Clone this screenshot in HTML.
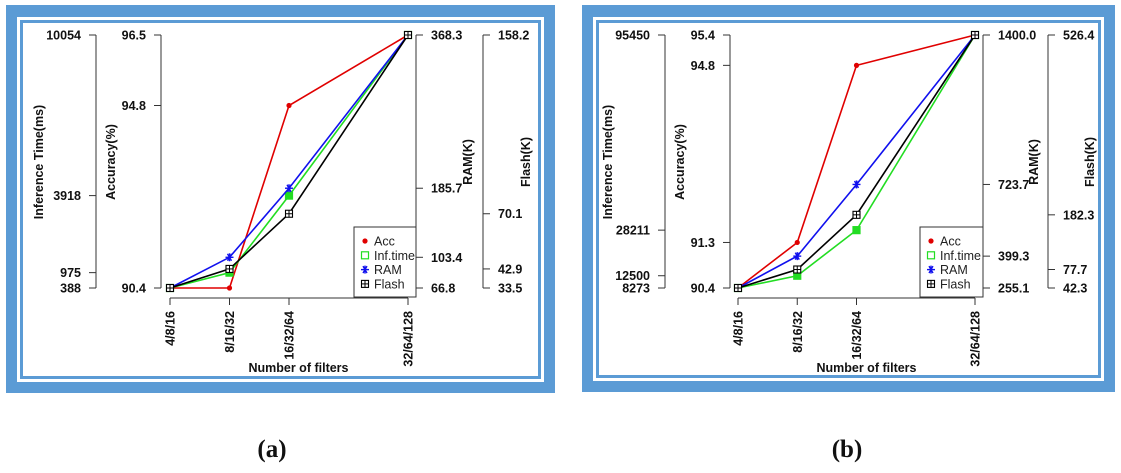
<!DOCTYPE html>
<html><head><meta charset="utf-8"><style>
body{margin:0;background:#fff;width:1121px;height:473px;overflow:hidden;position:relative;font-family:"Liberation Sans",sans-serif}
.cap{position:absolute;top:436px;font:bold 25px "Liberation Serif",serif;color:#111;width:80px;text-align:center}
</style></head><body>
<svg id="s" width="1121" height="473" style="position:absolute;left:0;top:0"></svg>
<div class="cap" style="left:232px">(a)</div>
<div class="cap" style="left:807px">(b)</div>
<script>
const categories=["4/8/16","8/16/32","16/32/64","32/64/128"];
const accA=[90.4,90.4,94.8,96.5];
const infA=[388,975,3918,10054];
const ramA=[66.8,103.4,185.7,368.3];
const flashA=[33.5,42.9,70.1,158.2];
const accTicksA=["90.4","94.8","96.5"];
const infTicksA=["388","975","3918","10054"];
const ramTicksA=["66.8","103.4","185.7","368.3"];
const flashTicksA=["33.5","42.9","70.1","158.2"];
const accB=[90.4,91.3,94.8,95.4];
const infB=[8273,12500,28211,95450];
const ramB=[255.1,399.3,723.7,1400.0];
const flashB=[42.3,77.7,182.3,526.4];
const accTicksB=["90.4","91.3","94.8","95.4"];
const infTicksB=["8273","12500","28211","95450"];
const ramTicksB=["255.1","399.3","723.7","1400.0"];
const flashTicksB=["42.3","77.7","182.3","526.4"];
const catIndex=[1,2,3,5]; // relative x spacing of categories (log2 scale of filters)

const svg=document.getElementById('s');
const NS='http://www.w3.org/2000/svg';
function el(t,a,p){const e=document.createElementNS(NS,t);for(const k in a)e.setAttribute(k,a[k]);(p||svg).appendChild(e);return e;}

function panel(P){
  const g=el('g',{});
  
  
  // frame
  const f=P.frame;
  el('rect',{x:f[0],y:f[1],width:f[2]-f[0],height:f[3]-f[1],fill:'#5b9bd5'},g);
  el('rect',{x:f[0]+11,y:f[1]+12,width:f[2]-f[0]-22,height:f[3]-f[1]-23,fill:'#fff'},g);
  el('rect',{x:f[0]+14,y:f[1]+15,width:f[2]-f[0]-28,height:f[3]-f[1]-29,fill:'#5b9bd5'},g);
  el('rect',{x:f[0]+17,y:f[1]+18,width:f[2]-f[0]-34,height:f[3]-f[1]-35,fill:'#fff'},g);
  const top=35,bot=288;
  const [x0,x1]=P.xr;
  const xs=i=>x0+(catIndex[i]-catIndex[0])/(catIndex[3]-catIndex[0])*(x1-x0);
  const mk=(arr)=>{const lo=arr[0],hi=arr[arr.length-1];return v=>bot-(v-lo)/(hi-lo)*(bot-top);};
  const yAcc=mk(P.acc),yInf=mk(P.inf),yRam=mk(P.ram),yFl=mk(P.flash);
  const font='font-family:"Liberation Sans",sans-serif;font-weight:bold;font-size:12.5px;fill:#111';
  // axes
  function axis(name,ax,ticks,vals,scale,side,title,tx){
    const a=el('g',{},g);
    
    
    el('line',{x1:ax,y1:top,x2:ax,y2:bot,stroke:'#333','stroke-width':1},a);
    ticks.forEach((t,i)=>{const y=scale(parseFloat(t));
      const d=side==='l'?-7:7;
      el('line',{x1:ax,y1:y,x2:ax+d,y2:y,stroke:'#333'},a);
      const tt=el('text',{x:side==='l'?ax-15:ax+15,y:y+4.5,'text-anchor':side==='l'?'end':'start',style:font},a);tt.textContent=t;});
    const tl=el('text',{x:tx,y:162,'text-anchor':'middle',transform:`rotate(-90 ${tx} 162)`,style:font},a);
    tl.textContent=title;
  }
  axis('inference-axis',P.ax[0],P.infT,P.inf,yInf,'l','Inference Time(ms)',P.tx[0]);
  axis('accuracy-axis',P.ax[1],P.accT,P.acc,yAcc,'l','Accuracy(%)',P.tx[1]);
  axis('ram-axis',P.ax[2],P.ramT,P.ram,yRam,'r','RAM(K)',P.tx[2]);
  axis('flash-axis',P.ax[3],P.flT,P.flash,yFl,'r','Flash(K)',P.tx[3]);
  // x axis
  const xa=el('g',{},g);
  
  
  el('line',{x1:xs(0),y1:298,x2:xs(3),y2:298,stroke:'#333'},xa);
  categories.forEach((c,i)=>{const x=xs(i);
    el('line',{x1:x,y1:298,x2:x,y2:305,stroke:'#333'},xa);
    const t=el('text',{x:x+4.5,y:311,'text-anchor':'end',transform:`rotate(-90 ${x+4.5} 311)`,style:font},xa);t.textContent=c;});
  const xt=el('text',{x:(P.ax[1]+P.ax[2])/2+10,y:372,'text-anchor':'middle',style:font},xa);xt.textContent='Number of filters';
  // series
  const series=[[P.acc,yAcc,'#e00000','acc'],[P.inf,yInf,'#22dd22','inf'],[P.ram,yRam,'#1010ee','ram'],[P.flash,yFl,'#000','flash']];
  series.forEach(([vals,sc,col,k])=>{
    const s=el('g',{},g);
    
    
    el('polyline',{points:vals.map((v,i)=>xs(i)+','+sc(v)).join(' '),fill:'none',stroke:col,'stroke-width':1.6},s);
    vals.forEach((v,i)=>marker(s,k,xs(i),sc(v),col));
  });
  // legend
  const L=P.leg;
  const lg=el('g',{},g);
  
  
  el('rect',{x:L[0],y:227,width:L[1]-L[0],height:70,fill:'#fff',stroke:'#333'},lg);
  [['acc','Acc','#e00000'],['inf','Inf.time','#22dd22'],['ram','RAM','#1010ee'],['flash','Flash','#000']].forEach(([k,lab,col],i)=>{
    const y=241+i*14.3;
    const e=el('g',{},lg);
    
    
    marker(e,k,L[0]+11,y,col,true);
    const t=el('text',{x:L[0]+20,y:y+4.5,style:'font-family:"Liberation Sans",sans-serif;font-size:12.5px;fill:#222'},e);t.textContent=lab;
  });
}
function marker(p,k,x,y,col,small){
  if(k==='acc')el('circle',{cx:x,cy:y,r:2.6,fill:col},p);
  else if(k==='inf'){el('rect',{x:x-3.5,y:y-3.5,width:7,height:7,fill:small?'#fff':col,stroke:col,'stroke-width':1.2},p);}
  else if(k==='ram'){[0,60,120].forEach(a=>{const r=a*Math.PI/180,dx=4*Math.cos(r),dy=4*Math.sin(r);el('line',{x1:x-dx,y1:y-dy,x2:x+dx,y2:y+dy,stroke:col,'stroke-width':1.4},p);});el('line',{x1:x,y1:y-4,x2:x,y2:y+4,stroke:col,'stroke-width':1.4},p);}
  else {el('rect',{x:x-3.5,y:y-3.5,width:7,height:7,fill:'#fff',stroke:col,'stroke-width':1.1},p);el('line',{x1:x-3.5,y1:y,x2:x+3.5,y2:y,stroke:col},p);el('line',{x1:x,y1:y-3.5,x2:x,y2:y+3.5,stroke:col},p);}
}
panel({name:'panel-a',frame:[6,5,555,393],xr:[170,408],ax:[96,161,416,483],tx:[43,115,472,530],leg:[354,416],
  acc:accA,inf:infA,ram:ramA,flash:flashA,accT:accTicksA,infT:infTicksA,ramT:ramTicksA,flT:flashTicksA});
panel({name:'panel-b',frame:[582,5,1115,392],xr:[738,975],ax:[665,730,983,1048],tx:[612,684,1038,1094],leg:[920,983],
  acc:accB,inf:infB,ram:ramB,flash:flashB,accT:accTicksB,infT:infTicksB,ramT:ramTicksB,flT:flashTicksB});
</script>
</body></html>
